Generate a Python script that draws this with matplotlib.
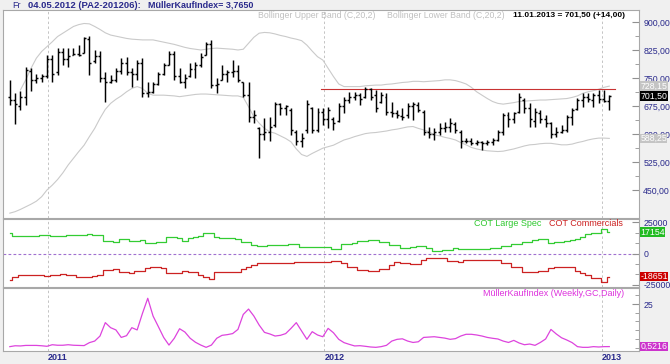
import datetime as dt
import matplotlib
matplotlib.use("Agg")
import matplotlib.pyplot as plt
import matplotlib.dates as mdates
import numpy as np

# ---------------- data (weekly palladium bars, 12.11.2010 .. 11.01.2013) ----------------
first_week = dt.date(2010, 11, 12)

high = [745, 709, 715, 780, 776, 762, 762, 812, 812, 830, 830, 830, 830, 838, 861, 863, 825, 821, 767, 758,
        776, 803, 807, 776, 798, 803, 740, 740, 767, 789, 821, 821, 776, 762, 789, 794, 816, 847, 852, 749,
        785, 772, 798, 785, 740, 740, 664, 620, 642, 646, 687, 682, 678, 669, 611, 602,
        691, 673, 669, 669, 673, 646, 682, 700, 713, 713, 709, 727, 722, 718, 713, 709, 687, 664, 669, 682,
        687, 687, 664, 620, 615, 629, 633, 642, 633, 611, 588, 588, 584, 580, 584, 588, 611, 655, 660, 660,
        709, 696, 682, 669, 664, 651, 633, 620, 624, 651, 669, 696, 709, 709, 709, 718, 718, 705]
low = [678, 627, 664, 678, 716, 736, 740, 749, 740, 758, 785, 780, 812, 809, 816, 758, 789, 740, 687, 736,
       740, 762, 758, 727, 745, 700, 700, 709, 731, 758, 785, 745, 736, 722, 753, 749, 780, 812, 722, 709,
       745, 740, 753, 740, 700, 633, 629, 535, 584, 580, 620, 651, 651, 597, 571, 566,
       602, 602, 606, 624, 615, 611, 633, 655, 682, 691, 678, 696, 691, 660, 682, 651, 646, 642, 638, 642,
       638, 660, 597, 588, 584, 597, 606, 606, 602, 562, 575, 571, 571, 557, 571, 571, 580, 597, 620, 629,
       655, 655, 620, 620, 629, 620, 588, 593, 602, 606, 624, 664, 673, 687, 673, 682, 687, 664]
open_ = [700, 690, 675, 700, 770, 745, 750, 755, 800, 765, 820, 800, 812, 815, 818, 855, 795, 810, 750, 740,
         745, 770, 790, 765, 760, 790, 710, 712, 735, 760, 785, 815, 755, 740, 755, 775, 785, 812, 840, 730,
         745, 760, 765, 770, 740, 705, 645, 615, 600, 605, 625, 680, 670, 665, 605, 580,
         610, 670, 610, 660, 640, 640, 635, 675, 690, 700, 705, 700, 720, 705, 685, 700, 660, 655, 648, 650,
         675, 678, 660, 605, 600, 605, 615, 618, 628, 605, 582, 580, 575, 578, 575, 578, 585, 605, 650, 640,
         660, 690, 670, 635, 655, 640, 630, 600, 605, 610, 645, 667, 690, 700, 690, 705, 695, 687.5]
close = [690, 680, 700, 772, 745, 750, 755, 800, 760, 820, 800, 810, 815, 812, 858, 790, 810, 750, 740, 745,
         770, 790, 765, 760, 790, 710, 712, 735, 760, 785, 815, 755, 740, 750, 775, 785, 805, 840, 730, 735,
         760, 765, 770, 745, 705, 645, 650, 600, 605, 620, 680, 670, 675, 610, 580, 590,
         680, 610, 660, 640, 665, 630, 675, 690, 700, 705, 695, 720, 700, 670, 705, 660, 655, 650, 645, 675,
         680, 665, 605, 600, 605, 615, 620, 630, 610, 580, 580, 575, 578, 575, 578, 585, 605, 650, 640, 655,
         700, 670, 640, 660, 640, 630, 600, 605, 610, 645, 665, 690, 700, 695, 705, 695, 687.5, 701.5]

boll_upper = [np.nan, np.nan, 718, 745, 776, 803, 821, 834, 847, 861, 870, 879, 888, 893, 896, 895, 888, 880, 871, 865,
              862, 859, 856, 854, 853, 852, 852, 852, 849, 846, 843, 840, 836, 832, 829, 827, 825, 827, 829, 830,
              829, 828, 827, 825, 827, 843, 859, 870, 872, 871, 868, 864, 861, 857, 854, 850,
              838, 822, 807, 798, 776, 754, 734, 727, 727, 727, 727, 729, 730, 731, 731, 733, 734, 736, 738, 739,
              741, 741, 740, 741, 742, 743, 745, 745, 743, 739, 734, 725, 713, 704, 695, 687, 682, 680, 682, 684,
              687, 688, 689, 690, 691, 691, 692, 693, 694, 695, 698, 702, 709, 713, 716, 720, 725, 728.15]
boll_lower = [388, 392, 398, 405, 412, 420, 432, 450, 463, 478, 496, 517, 535, 553, 570, 593, 615, 642, 666, 682,
              693, 702, 713, 722, 727, 722, 709, 704, 704, 704, 703, 702, 700, 702, 704, 706, 707, 707, 706, 705,
              704, 703, 702, 702, 698, 673, 646, 629, 615, 606, 602, 595, 588, 579, 560, 545,
              540, 548, 555, 562, 566, 570, 577, 584, 588, 593, 597, 601, 603, 604, 606, 608, 611, 613, 616, 619,
              620, 615, 611, 606, 598, 595, 591, 588, 584, 577, 571, 564, 560, 557, 555, 554, 553, 554, 557, 560,
              564, 568, 571, 572, 574, 575, 575, 573, 571, 571, 573, 577, 580, 584, 587, 589, 589, 588.25]

resistance_dates = [dt.date(2011, 12, 28), dt.date(2013, 1, 18)]
resistance_vals = [719.7, 719.7]

cot_large_spec = [16290, 14130, 14130, 14130, 14400, 14400, 14700, 14920, 14130, 14400,
                  14130, 14700, 14920, 15190, 15190, 15730, 15190, 14920, 10350, 10350,
                  9540, 11960, 11960, 10350, 10350, 10890, 8200, 8200, 9540, 9540,
                  13040, 13040, 12230, 10350, 12230, 13040, 14130, 16290, 16290, 13040,
                  12230, 12230, 12230, 11960, 9000, 9000, 6850, 6050, 6050, 6850,
                  6850, 6850, 6850, 7390, 7390, 4970,
                  4970, 5510, 5510, 5510, 4970, 3630, 3630, 7390, 7390, 8740,
                  10080, 10080, 10890, 10890, 9000, 9000, 6850, 6850, 4700, 4700,
                  5510, 6050, 6050, 4170, 2020, 2020, 2820, 2820, 4700, 3630,
                  3630, 3630, 3630, 3630, 3630, 4700, 4700, 6320, 6320, 7660,
                  7660, 9540, 9540, 10890, 11420, 11420, 8200, 9000, 9000, 10080,
                  10890, 11420, 13570, 15730, 16800, 16800, 19490, 17154]
cot_commercials = [-21370, -18680, -17340, -17340, -17340, -17340, -17340, -17880, -17340, -17340,
                   -16800, -17340, -17340, -18680, -18680, -18680, -18140, -17340, -13310, -13310,
                   -12770, -14650, -14650, -16000, -14110, -14110, -11960, -10620, -11150, -11960,
                   -15460, -16000, -16000, -14110, -15190, -15190, -17340, -19220, -20570, -15190,
                   -15190, -15190, -14650, -14650, -12770, -10620, -9270, -7390, -7390, -7390,
                   -7390, -7390, -7930, -7930, -6590, -6590,
                   -6590, -6590, -6590, -6590, -6590, -6050, -5780, -7930, -11150, -11150,
                   -13310, -13310, -14110, -14110, -12500, -12500, -9270, -6590, -7930, -7930,
                   -8470, -8470, -5240, -3360, -3900, -3900, -3900, -5780, -5780, -6590,
                   -5240, -5240, -5240, -5240, -5240, -5240, -5240, -7930, -7930, -10620,
                   -10620, -14650, -14650, -14650, -13840, -13840, -11960, -10620, -10620, -11150,
                   -11150, -13840, -16000, -17340, -20030, -20030, -22720, -18651]

mueller_kauf = [0.5, 1.0, 0.9, 1.2, 1.2, 1.2, 1.0, 0.7, 1.6, 1.3,
                1.3, 1.6, 1.3, 1.2, 1.1, 2.8, 3.7, 6.6, 14.3, 11.4,
                10.1, 5.8, 6.8, 11.4, 10.1, 19.6, 28.3, 18.1, 12.0, 5.8,
                1.4, 5.3, 10.8, 8.9, 5.3, 3.0, 1.4, 0.1, 1.4, 5.3,
                7.0, 7.4, 8.0, 10.4, 19.0, 22.1, 18.1, 12.9, 8.7, 7.8,
                6.6, 7.0, 8.0, 11.0, 14.3, 9.5,
                4.7, 9.1, 7.2, 6.2, 11.0, 8.5, 4.7, 2.8, 1.8, 0.9,
                1.05, 0.7, 0.3, 0.1, 0.5, 1.25, 3.7, 4.7, 5.0, 3.7,
                2.9, 3.3, 5.8, 6.0, 6.2, 5.8, 5.4, 4.7, 5.1, 6.6,
                7.6, 7.6, 7.2, 6.6, 5.8, 5.3, 4.9, 3.7, 2.9, 4.1,
                2.6, 1.6, 2.0, 1.25, 2.9, 4.9, 10.4, 7.8, 5.6, 4.3,
                2.8, 0.5, 0.1, 0.1, 0.5, 0.3, 0.5, 0.5216]

price_ticks = [450, 525, 600, 675, 750, 825, 900]
price_tick_labels = ["450,00", "525,00", "600,00", "675,00", "750,00", "825,00", "900,00"]
cot_ticks = [-25000, 0, 25000]
cot_tick_labels = ["-25000", "0", "25000"]
mk_ticks = [25]
mk_tick_labels = ["25"]
year_dates = [dt.date(2011, 1, 1), dt.date(2012, 1, 1), dt.date(2013, 1, 1)]
year_labels = ["2011", "2012", "2013"]

# ---------------- styling ----------------
plt.rcParams['font.family'] = ['Liberation Sans', 'DejaVu Sans']
NAVY = '#2a2a8c'
W, H = 670, 364
fig = plt.figure(figsize=(W / 100, H / 100), dpi=100, facecolor='#f0f0f0')


def rect(x0, y0, x1, y1):
    return [x0 / W, 1 - y1 / H, (x1 - x0) / W, (y1 - y0) / H]


def px(xp, yp):
    return xp / W, 1 - yp / H


x = mdates.date2num([first_week + dt.timedelta(days=7 * k) for k in range(len(close))])
yd = mdates.date2num(year_dates)
xlim = (yd[0] - 59.0, yd[2] + 49.2)

ax1 = fig.add_axes(rect(3, 10, 639, 218))
ax2 = fig.add_axes(rect(3, 219, 639, 286.5))
ax3 = fig.add_axes(rect(3, 287.5, 639, 350.5))

for ax in (ax1, ax2, ax3):
    ax.set_xlim(*xlim)
    ax.set_facecolor('white')
    for s in ax.spines.values():
        s.set_color('#a8a8a8')
        s.set_linewidth(0.8)
    for v in yd:
        ax.axvline(v, color='#c4c4c4', lw=0.7, ls=(0, (2.5, 2.5)), zorder=0)
    ax.yaxis.tick_right()
    ax.tick_params(axis='y', which='both', direction='in', color='#909090',
                   labelcolor=NAVY, labelsize=6.3, pad=3)
    ax.tick_params(axis='y', which='major', length=5)
    ax.tick_params(axis='y', which='minor', length=3)
    ax.tick_params(axis='x', which='both', length=0, labelbottom=False)

# --- price panel ---
ax1.set_ylim(375, 932.1)
ax1.plot(x, boll_upper, color='#cacaca', lw=0.8, zorder=1)
ax1.plot(x, boll_lower, color='#cacaca', lw=0.8, zorder=1)
ax1.plot(mdates.date2num(resistance_dates), resistance_vals, color='#c83232', lw=0.8, zorder=2)
ax1.vlines(x, low, high, color='black', lw=1.05, zorder=3)
ax1.hlines(open_, x - 2.6, x, color='black', lw=1.05, zorder=3)
ax1.hlines(close, x, x + 2.6, color='black', lw=1.05, zorder=3)
ax1.set_yticks(price_ticks)
ax1.set_yticklabels(price_tick_labels)
ax1.set_yticks(np.array(price_ticks[:-1]) + 37.5, minor=True)


def box(ax, val, text, fc):
    ax.annotate(text, xy=(1.0, val), xycoords=('axes fraction', 'data'),
                xytext=(1.0, 0), textcoords='offset points', ha='left', va='center',
                fontsize=6.3, color='white', annotation_clip=False, zorder=10,
                bbox=dict(boxstyle='square,pad=0.04', fc=fc, ec='none'))


box(ax1, boll_upper[-1], "728,15", '#c4c4c4')
box(ax1, close[-1], "701,50", 'black')
box(ax1, boll_lower[-1], "588,25", '#c4c4c4')

# --- COT panel ---
ax2.set_ylim(-26610, 27820)
ax2.axhline(0, color='#a070d0', lw=0.8, ls=(0, (2.5, 2)), zorder=1)
ax2.plot(x, cot_large_spec, color='#33cc33', lw=0.9, drawstyle='steps-mid', zorder=2)
ax2.plot(x, cot_commercials, color='#cc2222', lw=0.9, drawstyle='steps-mid', zorder=2)
ax2.set_yticks(cot_ticks)
ax2.set_yticklabels(cot_tick_labels)
ax2.set_yticks([-25000 + 25000 / 3 * k for k in range(7)], minor=True)
box(ax2, cot_large_spec[-1], "17154", '#22bb22')
box(ax2, cot_commercials[-1], "-18651", '#cc0000')

# --- MuellerKaufIndex panel ---
ax3.set_ylim(-1.72, 34.5)
ax3.plot(x, mueller_kauf, color='#dd44dd', lw=0.9, zorder=2)
ax3.set_yticks(mk_ticks)
ax3.set_yticklabels(mk_tick_labels)
ax3.set_yticks([0, 5, 10, 15, 20, 30], minor=True)
box(ax3, mueller_kauf[-1], "0,5216", '#cc33cc')
ax3.set_xticks(yd)
ax3.set_xticklabels(year_labels)
ax3.tick_params(axis='x', labelbottom=True, labelsize=6.5, labelcolor=NAVY, pad=2)
for t in ax3.get_xticklabels():
    t.set_ha('left')
    t.set_fontweight('bold')

# --- texts ---
fig.text(*px(12, 5.3), "Fr", fontsize=6.5, color=NAVY, va='center', ha='left')
fig.text(*px(28, 5.3), "04.05.2012 (PA2-201206):", fontsize=6.8, color=NAVY,
         fontweight='bold', va='center', ha='left')
fig.text(*px(148, 5.3), "MüllerKaufIndex= 3,7650", fontsize=6.5, color=NAVY,
         fontweight='bold', va='center', ha='left')
fig.text(*px(258, 15.5), "Bollinger Upper Band (C,20,2)", fontsize=6.3, color='#c0c0c0',
         va='center', ha='left')
fig.text(*px(387, 15.5), "Bollinger Lower Band (C,20,2)", fontsize=6.3, color='#c0c0c0',
         va='center', ha='left')
fig.text(*px(625, 15.5), "11.01.2013 = 701,50 (+14,00)", fontsize=6.0, color='black',
         fontweight='bold', va='center', ha='right')
fig.text(*px(474, 224), "COT Large Spec", fontsize=6.5, color='#2ec82e', va='center', ha='left')
fig.text(*px(623, 224), "COT Commercials", fontsize=6.5, color='#cc2020', va='center', ha='right')
fig.text(*px(624, 293.3), "MüllerKaufIndex (Weekly,GC,Daily)", fontsize=6.5, color='#dd33dd',
         va='center', ha='right')

fig.savefig("out.png", dpi=100, facecolor=fig.get_facecolor())
